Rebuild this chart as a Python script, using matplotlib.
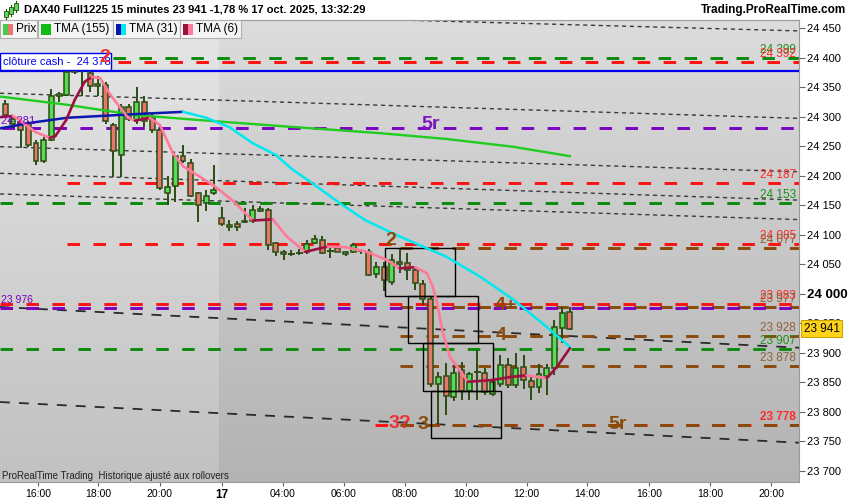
import numpy as np
import matplotlib
matplotlib.use('Agg')
import matplotlib.pyplot as plt
import matplotlib.colors as mcolors
from matplotlib.collections import LineCollection
from matplotlib.patches import Rectangle

plt.rcParams['font.family'] = ['Liberation Sans', 'DejaVu Sans']

# ---------------- data ----------------
opens = [24322, 24288, 24290, 24289, 24255, 24224, 24260, 24334, 24337, 24380,
         24392, 24373, 24352, 24353, 24286, 24235, 24317, 24294, 24325, 24297,
         24277, 24170, 24183, 24233, 24221, 24170, 24153, 24170, 24128, 24113,
         24119, 24122, 24124, 24140, 24142, 24086, 24070, 24066, 24068, 24070,
         24086, 24091, 24073, 24077, 24067, 24070, 24074, 24071, 24033, 24046,
         24020, 24054, 24052, 24040, 24016, 23992, 23847, 23860, 23825, 23871,
         23836, 23866, 23866, 23830, 23847, 23879, 23846, 23876, 23853, 23842,
         23860, 23874, 23942, 23970]
highs = [24328, 24302, 24294, 24292, 24260, 24265, 24346, 24342, 24395, 24396,
         24399, 24390, 24368, 24359, 24289, 24322, 24322, 24350, 24334, 24305,
         24286, 24199, 24235, 24252, 24228, 24172, 24176, 24218, 24147, 24125,
         24123, 24145, 24150, 24148, 24145, 24088, 24074, 24074, 24075, 24091,
         24100, 24097, 24077, 24080, 24072, 24086, 24076, 24075, 24053, 24053,
         24067, 24077, 24069, 24046, 24023, 23995, 23868, 23883, 23879, 23885,
         23868, 23905, 23874, 23854, 23896, 23891, 23899, 23896, 23861, 23882,
         23882, 23956, 23978, 23978]
lows = [24297, 24280, 24246, 24249, 24218, 24221, 24258, 24325, 24335, 24372,
        24335, 24342, 24334, 24288, 24198, 24198, 24292, 24288, 24283, 24273,
        24175, 24150, 24156, 24221, 24164, 24122, 24141, 24167, 24114, 24107,
        24107, 24120, 24120, 24139, 24074, 24064, 24058, 24064, 24065, 24067,
        24085, 24068, 24060, 24070, 24064, 24069, 24067, 24030, 24026, 24004,
        24015, 24035, 24023, 24006, 23981, 23843, 23778, 23795, 23819, 23820,
        23820, 23820, 23829, 23827, 23843, 23840, 23840, 23838, 23821, 23832,
        23829, 23862, 23916, 23939]
closes = [24303, 24296, 24278, 24252, 24224, 24260, 24334, 24338, 24376, 24376,
          24380, 24351, 24356, 24292, 24241, 24317, 24296, 24325, 24292, 24277,
          24179, 24180, 24233, 24224, 24166, 24150, 24166, 24175, 24118, 24117,
          24113, 24124, 24142, 24143, 24083, 24071, 24067, 24067, 24069, 24085,
          24093, 24069, 24072, 24071, 24071, 24083, 24073, 24032, 24045, 24023,
          24058, 24050, 24040, 24019, 23992, 23847, 23859, 23827, 23866, 23836,
          23864, 23867, 23833, 23850, 23880, 23846, 23874, 23854, 23842, 23864,
          23874, 23944, 23967, 23941]

tick_labels = ['16:00', '18:00', '20:00', '17', '04:00', '06:00', '08:00',
               '10:00', '12:00', '14:00', '16:00', '18:00', '20:00']
tick_bars = [4.3, 12.0, 20.0, 28.0, 35.9, 43.8, 51.7, 59.6, 67.4, 75.2, 83.2, 91.1, 99.0]
price_ticks = list(range(23700, 24451, 50))

tma155_bar = [-0.65, 8.0, 16.6, 25.2, 35.5, 48.4, 57.1, 65.6, 73.0]
tma155_val = [24334, 24320, 24303, 24294, 24284, 24272, 24262, 24249, 24233]

tma31_bar = [-0.65, 3.6, 8.0, 12.3, 18.1, 23.0, 26.0, 29.0, 32.0, 35.0, 37.0, 39.4,
             43.3, 46.5, 48.4, 51.0, 54.0, 57.0, 61.4, 65.7, 70.0, 73.0]
tma31_val = [24280, 24290, 24298, 24301, 24305, 24308, 24298, 24282, 24255, 24235, 24212, 24190,
             24153, 24125, 24113, 24097, 24080, 24063, 24029, 23990, 23944, 23910]

tma6_bar = [-0.65, 1.0, 1.9, 3.9, 5.8, 6.5, 7.9, 9.0, 10.3, 11.2, 12.3, 13.6, 14.9, 15.9,
            16.8, 18.7, 20.0, 21.7, 23.0, 25.2, 26.9, 29.5, 32.0, 34.6, 36.4, 38.8, 41.7,
            43.9, 46.8, 49.4, 51.0, 53.0, 54.5, 55.2, 55.8, 56.5, 57.5, 58.8, 59.8, 63.0,
            65.2, 67.4, 70.0, 71.3, 73.0]
tma6_val = [24299, 24301, 24294, 24274, 24264, 24267, 24294, 24328, 24359, 24367, 24365,
            24337, 24315, 24298, 24293, 24298, 24286, 24238, 24216, 24198, 24184, 24157,
            24124, 24126, 24097, 24071, 24080, 24079, 24071, 24057, 24043, 24045, 24035,
            24015, 23986, 23938, 23893, 23870, 23851, 23854, 23859, 23862, 23857, 23876, 23908]

level_price = [24399, 24392, 24281, 24187, 24153, 24085, 24077, 23983, 23977, 23976,
               23928, 23907, 23878, 23778, 23778]
level_start = [14.0, 14.6, -0.4, 8.0, -0.65, 8.0, 51.0, -0.65, 51.0, -0.65,
               51.0, -0.65, 51.0, 47.8, 51.0]
level_kind = ['green', 'red', 'purple', 'red', 'green', 'red', 'brown', 'red', 'brown',
              'purple', 'brown', 'green', 'brown', 'red', 'brown']

label_price = [24399, 24392, 24187, 24153, 24085, 24077, 23983, 23977, 23928, 23907, 23878, 23778]
label_kind = ['green', 'red', 'red', 'green', 'red', 'brown', 'red', 'brown', 'brown',
              'green', 'brown', 'red']

trend_start = [24482, 24339.5, 24249, 24204, 24169, 23977.7, 23816.8]
trend_end = [24445, 24297, 24206.5, 24158.6, 24125.6, 23908.7, 23747.9]
trend_kind = ['short', 'short', 'short', 'short', 'short', 'long', 'long']

box_left = [49.1, 52.1, 54.0, 55.0]
box_top = [24077, 23997, 23916, 23836]
box_width = 9.05
box_height = 80.5

wave_text = ['2', '5r', '2', '4+', '4', '3?', '3', '5r']
wave_bar = [12.9, 55.0, 49.9, 64.7, 64.1, 51.0, 54.0, 79.2]
wave_price = [24400, 24287, 24091, 23981, 23929, 23781, 23778, 23778]
wave_kind = ['red', 'purple', 'brown', 'brown', 'brown', 'red', 'brown', 'brown']

cash_close = 24378
last_price = 23941

# ---------------- styles ----------------
LVL_COL = {'green': '#0b8a0b', 'red': '#ff1010', 'purple': '#7a00c2', 'brown': '#8a4a0a'}
LBL_COL = {'green': '#1d8f1d', 'red': '#ff2a2a', 'brown': '#8f6238'}
WAVE_COL = {'red': '#ee3030', 'purple': '#7a18c0', 'brown': '#8a4a0a'}
UP, DOWN, EDGE = '#55dd55', '#e8766c', '#2b4d12'

W, H = 850, 500
fig = plt.figure(figsize=(W / 100, H / 100), dpi=100, facecolor='white')
ax = fig.add_axes([0, 18 / H, 799 / W, 462 / H])
X0, X1 = -0.65, 102.6
Y0, Y1 = 23681.4, 24463.5
SEP = 27.6


def fx(px):
    return px / W


def fy(py):
    return 1 - py / H


def vgrad(top, bot, n=256):
    t = np.linspace(0, 1, n)[:, None]
    a = np.array(mcolors.to_rgb(top))
    b = np.array(mcolors.to_rgb(bot))
    return (a * (1 - t) + b * t)[:, None, :]


ax.imshow(vgrad('#e6e6e6', '#c1c1c1'), extent=[X0, SEP, Y0, Y1], origin='upper',
          aspect='auto', zorder=0, interpolation='bilinear')
ax.imshow(vgrad('#dcdcdc', '#b3b3b3'), extent=[SEP, X1, Y0, Y1], origin='upper',
          aspect='auto', zorder=0, interpolation='bilinear')

# trend lines
for y0, y1, kind in zip(trend_start, trend_end, trend_kind):
    if kind == 'short':
        ax.plot([X0, X1], [y0, y1], color='#3a3a3a', lw=1.0, ls=(0, (3, 2.6)), zorder=2)
    else:
        ax.plot([X0, X1], [y0, y1], color='#2a2a2a', lw=1.3, ls=(0, (5.5, 5)), zorder=2)

# levels
for p, s, kind in zip(level_price, level_start, level_kind):
    ax.plot([s, X1], [p, p], color=LVL_COL[kind], lw=2.1, ls=(0, (4.3, 4.6)), zorder=2.5,
            solid_capstyle='butt', dash_capstyle='butt')

# cash close line
ax.axhline(cash_close, color='#0000ee', lw=1.6, zorder=2.6)

# candles
bw = 0.64
for i, (o, h, l, c) in enumerate(zip(opens, highs, lows, closes)):
    ax.plot([i, i], [l, h], color=EDGE, lw=1.4, zorder=4, solid_capstyle='butt')
    if abs(c - o) < 2:
        ax.plot([i - bw / 2, i + bw / 2], [c, c], color=EDGE, lw=1.4, zorder=4.1)
    else:
        col = UP if c > o else DOWN
        ax.add_patch(Rectangle((i - bw / 2, min(o, c)), bw, abs(c - o), facecolor=col,
                               edgecolor=EDGE, lw=1.1, zorder=4.1))

# boxes
for bl, bt in zip(box_left, box_top):
    ax.add_patch(Rectangle((bl, bt - box_height), box_width, box_height, fill=False,
                           edgecolor='black', lw=1.0, zorder=4.5))


def colored_line(xs, ys, up_col, down_col, lw, z):
    pts = np.column_stack([xs, ys])
    segs = np.stack([pts[:-1], pts[1:]], axis=1)
    cols = [up_col if b[1] > a[1] else down_col for a, b in zip(pts[:-1], pts[1:])]
    lc = LineCollection(segs, colors=cols, linewidths=lw, zorder=z, capstyle='round',
                        joinstyle='round')
    ax.add_collection(lc)


ax.plot(tma155_bar, tma155_val, color='#1fcc1f', lw=1.7, zorder=5)
colored_line(tma31_bar, tma31_val, '#0a18b0', '#00e8f0', 1.8, 5.1)
colored_line(tma6_bar, tma6_val, '#9c1040', '#ff7a9a', 1.9, 5.2)

# right level labels
for p, kind in zip(label_price, label_kind):
    ax.text(102.2, p + 13.5, f"{p // 1000} {p % 1000:03d}", color=LBL_COL[kind], fontsize=8.5,
            ha='right', va='center', zorder=6,
            fontweight='bold' if p == 23778 else 'normal')

# left purple labels
ax.text(-0.5, 24281 + 11, '24 281', color='#7a00c2', fontsize=8, ha='left', va='center', zorder=6)
ax.text(-0.5, 23976 + 13, '23 976', color='#7a00c2', fontsize=7.5, ha='left', va='center', zorder=6)

# wave labels
for t, b, p, kind in zip(wave_text, wave_bar, wave_price, wave_kind):
    ax.text(b, p, t, color=WAVE_COL[kind], fontsize=14, fontweight='bold', ha='center',
            va='center', zorder=8)

# cloture cash box
ax.add_patch(Rectangle((fx(0), fy(70)), fx(111), 17 / H, transform=fig.transFigure,
                       facecolor='white', edgecolor='#0000ee', lw=1.0, zorder=7))
ax.text(fx(3), fy(62), 'clôture cash -  24 378', transform=fig.transFigure, color='#0000ee',
        fontsize=8, ha='left', va='center', zorder=7.5)

# axes formatting
ax.set_xlim(X0, X1)
ax.set_ylim(Y0, Y1)
ax.yaxis.tick_right()
ax.set_yticks(price_ticks)
ax.set_yticklabels([f"{v // 1000} {v % 1000:03d}" for v in price_ticks])
ax.set_xticks(tick_bars)
ax.set_xticklabels(tick_labels)
ax.tick_params(axis='y', length=4, width=0.8, color='#666', labelsize=8, pad=2)
ax.tick_params(axis='x', length=3, width=0.8, color='#666', labelsize=7.5, pad=2)
for lab, v in zip(ax.get_yticklabels(), price_ticks):
    if v == 24000:
        lab.set_fontweight('bold')
        lab.set_fontsize(9.5)
for lab in ax.get_xticklabels():
    if lab.get_text() == '17':
        lab.set_fontweight('bold')
        lab.set_fontsize(8.5)
ax.spines['left'].set_visible(False)
for side in ['right', 'bottom', 'top']:
    ax.spines[side].set_color('#9a9a9a')
    ax.spines[side].set_linewidth(0.8)

# current price tag
ax.text(1.006, last_price, f"{last_price // 1000} {last_price % 1000:03d}",
        transform=ax.get_yaxis_transform(), fontsize=8.5, color='black', ha='left',
        va='center', zorder=10, clip_on=False,
        bbox=dict(boxstyle='square,pad=0.2', facecolor='#ffd21a', edgecolor='#c9a400', lw=0.8))

# bottom note
ax.text(fx(2), fy(476), 'ProRealTime Trading  Historique ajusté aux rollovers',
        transform=fig.transFigure, fontsize=7, color='#222', ha='left', va='center', zorder=8)

# header
fig.text(fx(24), fy(10), 'DAX40 Full1225 15 minutes 23 941 -1,78 % 17 oct. 2025, 13:32:29',
         fontsize=8, fontweight='bold', ha='left', va='center')
fig.text(fx(846), fy(10), 'Trading.ProRealTime.com', fontsize=8.5, fontweight='bold',
         ha='right', va='center')


def fig_rect(x0, y0, x1, y1, **kw):
    r = Rectangle((fx(x0), fy(y1)), (x1 - x0) / W, (y1 - y0) / H, transform=fig.transFigure,
                  zorder=kw.pop('zorder', 10), **kw)
    fig.add_artist(r)


# header icon (mini candles)
for cx, top, bot in [(6, 11, 17), (11, 7, 14), (16, 3, 10)]:
    fig.add_artist(plt.Line2D([fx(cx), fx(cx)], [fy(top - 2), fy(bot + 2)],
                              transform=fig.transFigure, color=EDGE, lw=0.8, zorder=10))
    fig_rect(cx - 2, top, cx + 2, bot, facecolor=UP, edgecolor=EDGE, lw=0.6, zorder=11)

# legend row
legend_items = [
    (0, 37, 'Prix', ['#4cc94c', '#e8766c']),
    (38, 113, 'TMA (155)', ['#11bb11', '#11bb11']),
    (113, 180, 'TMA (31)', ['#0a18b0', '#00e8f0']),
    (180, 241, 'TMA (6)', ['#9c1040', '#ff7a9a']),
]
for x0, x1, txt, cols in legend_items:
    fig_rect(x0, 20.5, x1, 38, facecolor='#f4f4f4', edgecolor='#b0b0b0', lw=0.8)
    fig_rect(x0 + 3, 24, x0 + 8, 35, facecolor=cols[0], edgecolor='none', zorder=11)
    fig_rect(x0 + 8, 24, x0 + 13, 35, facecolor=cols[1], edgecolor='none', zorder=11)
    fig.text(fx(x0 + 16), fy(29.5), txt, fontsize=8.5, ha='left', va='center', zorder=12)

fig.savefig('out.png', dpi=100, facecolor='white')
